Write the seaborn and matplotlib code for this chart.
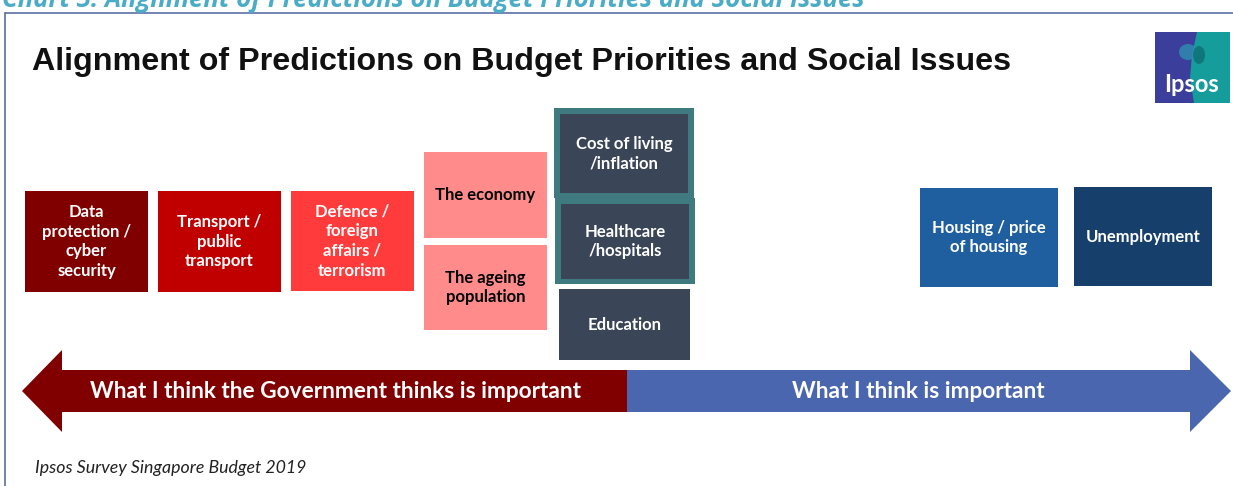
import matplotlib
matplotlib.use("Agg")
import matplotlib.pyplot as plt
from matplotlib.patches import Rectangle, Polygon, Ellipse
import seaborn as sns

# ---------------- data ----------------
heading = "Chart 3: Alignment of Predictions on Budget Priorities and Social Issues"
title = "Alignment of Predictions on Budget Priorities and Social Issues"
source = "Ipsos Survey Singapore Budget 2019"
arrow_labels = ["What I think the Government thinks is important", "What I think is important"]

issues = [
    "Data\nprotection /\ncyber\nsecurity",
    "Transport /\npublic\ntransport",
    "Defence /\nforeign\naffairs /\nterrorism",
    "The economy",
    "The ageing\npopulation",
    "Cost of living\n/inflation",
    "Healthcare\n/hospitals",
    "Education",
    "Housing / price\nof housing",
    "Unemployment",
]
issue_colors = ["#800000", "#C00000", "#FF3B3B", "#FF8B8B", "#FF8B8B",
                "#3A4557", "#3A4557", "#3A4557", "#1F5FA0", "#173F6B"]
issue_text_colors = ["white", "white", "white", "black", "black",
                     "white", "white", "white", "white", "white"]
highlighted = ["Cost of living\n/inflation", "Healthcare\n/hospitals"]

# ---------------- layout (pixel space) ----------------
W, H = 1233, 486
box_geom = [  # x0, y0, x1, y1
    (25, 191, 148, 292),
    (158, 191, 281, 292),
    (291, 191, 414, 291),
    (424, 152, 547, 238),
    (424, 245, 547, 330),
    (560, 114, 688, 193),
    (561, 204, 689, 279),
    (559, 289, 690, 360),
    (920, 188, 1058, 287),
    (1074, 187, 1212, 286),
]

sns.set_theme(style="white")
plt.rcParams["font.family"] = ["Lato", "DejaVu Sans"]

fig = plt.figure(figsize=(W / 100, H / 100), dpi=100)
ax = fig.add_axes([0, 0, 1, 1])
ax.set_xlim(0, W)
ax.set_ylim(H, 0)
ax.axis("off")

# frame
ax.plot([5, W], [13, 13], color="#5B6FA8", lw=1.2)
ax.plot([5, 5], [13, H], color="#5B6FA8", lw=1.2)

# heading (partly above the top edge, as in the source page)
ax.text(2, 7, heading, ha="left", va="baseline", fontsize=18.5, fontweight="bold",
        fontstyle="italic", color="#4BACC6", family=["Open Sans", "DejaVu Sans"])

# title
ax.text(32, 62, title, ha="left", va="center", fontsize=23.2, fontweight="bold",
        color="#111111", family=["Liberation Sans", "DejaVu Sans"])

# highlight borders
for lab, (x0, y0, x1, y1) in zip(issues, box_geom):
    if lab in highlighted:
        ax.add_patch(Rectangle((x0 - 6, y0 - 6), (x1 - x0) + 12, (y1 - y0) + 11,
                               facecolor="#3F7A80", edgecolor="none", zorder=1))

for lab, col, tcol, (x0, y0, x1, y1) in zip(issues, issue_colors, issue_text_colors, box_geom):
    ax.add_patch(Rectangle((x0, y0), x1 - x0, y1 - y0, facecolor=col,
                           edgecolor="none", zorder=2))
    ax.text((x0 + x1) / 2, (y0 + y1) / 2, lab, ha="center", va="center",
            fontsize=12, fontweight="bold", color=tcol, linespacing=1.3, zorder=3)

# double arrow
split = 627
left_poly = [(22, 391), (62, 350), (62, 370), (split, 370), (split, 412), (62, 412), (62, 432)]
right_poly = [(split, 370), (1190, 370), (1190, 350), (1231, 391), (1190, 432), (1190, 412), (split, 412)]
ax.add_patch(Polygon(left_poly, closed=True, facecolor="#800000", edgecolor="none"))
ax.add_patch(Polygon(right_poly, closed=True, facecolor="#4A66AE", edgecolor="none"))
ax.text(335, 391, arrow_labels[0], ha="center", va="center", fontsize=16.3,
        fontweight="bold", color="white")
ax.text(918, 391, arrow_labels[1], ha="center", va="center", fontsize=16.3,
        fontweight="bold", color="white")

# source
ax.text(35, 468, source, ha="left", va="center", fontsize=12.8, fontstyle="italic",
        color="#222222")

# Ipsos logo
lx0, ly0, lx1, ly1 = 1155, 32, 1230, 103
ax.add_patch(Rectangle((lx0, ly0), lx1 - lx0, ly1 - ly0, facecolor="#159D9C", edgecolor="none"))
ax.add_patch(Polygon([(lx0, ly0), (1197, ly0), (1192, 55), (1190, 78), (1194, ly1), (lx0, ly1)],
                     closed=True, facecolor="#3B3F9B", edgecolor="none"))
ax.add_patch(Ellipse((1188, 52), 18, 16, facecolor="#2E8FB0", edgecolor="none", alpha=0.8))
ax.add_patch(Ellipse((1199, 55), 12, 18, facecolor="#0E6E75", edgecolor="none", alpha=0.8))
ax.text(1192, 84, "Ipsos", ha="center", va="center", fontsize=17, fontweight="bold",
        color="white")

fig.savefig("out.png", dpi=100)
